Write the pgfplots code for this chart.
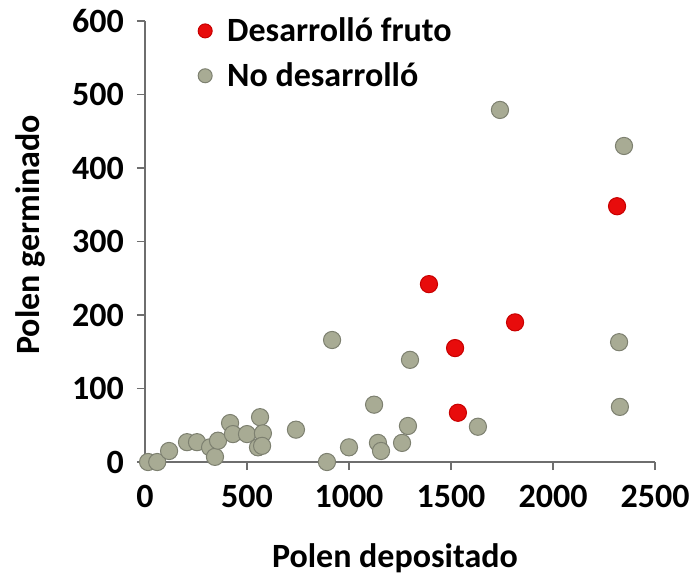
\documentclass[border=0pt]{standalone}
\usepackage{fontspec}
\setmainfont{Carlito}
\usepackage{pgfplots}
\pgfplotsset{compat=1.18}
\definecolor{redfill}{RGB}{232,12,12}
\definecolor{rededge}{RGB}{200,0,0}
\definecolor{grayfill}{RGB}{168,171,148}
\definecolor{grayedge}{RGB}{125,128,112}
\definecolor{axgray}{RGB}{110,110,110}
\begin{document}
\begin{tikzpicture}
\begin{axis}[
  at={(0,0)}, anchor=south west,
  scale only axis, width=255pt, height=220.5pt,
  xmin=0, xmax=2500, ymin=0, ymax=600,
  axis x line*=bottom, axis y line*=left,
  axis line style={axgray, line width=0.9pt},
  xtick={0,500,...,2500}, ytick={0,100,...,600},
  tick style={axgray, line width=0.9pt},
  tick align=outside, major tick length=4pt,
  /pgf/number format/assume math mode=true,
  /pgf/number format/1000 sep={},
  tick label style={font=\fontsize{17}{20}\selectfont\bfseries},
  xticklabel style={yshift=-4pt},
  yticklabel style={xshift=-3pt},
  xlabel={Polen depositado}, ylabel={Polen germinado},
  every axis x label/.style={at={(axis description cs:0.49,-0.218)}, anchor=center, font=\fontsize{17}{20}\selectfont\bfseries},
  every axis y label/.style={at={(axis description cs:-0.2255,0.515)}, rotate=90, anchor=center, font=\fontsize{17}{20}\selectfont\bfseries},
  clip=false,
  legend style={at={(axis description cs:0.1035,1.018)}, anchor=north west, draw=none, fill=none,
    font=\fontsize{17}{20}\selectfont\bfseries, row sep=5pt, inner sep=0pt,
    /tikz/every odd column/.style={column sep=5.5pt}},
  legend cell align=left,
  legend image code/.code={\draw[#1, mark size=3.5pt] plot coordinates {(0.3cm,0cm)};},
]
\addplot[only marks, mark=*, mark size=4.3pt, mark options={fill=redfill, draw=rededge, line width=0.5pt}] coordinates {
(1392,242) (1520,155) (1534,67) (1814,190) (2314,348)
};
\addlegendentry{Desarrolló fruto}
\addplot[only marks, mark=*, mark size=4.3pt, mark options={fill=grayfill, draw=grayedge, line width=0.5pt}] coordinates {
(1740,479) (2348,430) (2324,163) (2328,75) (917,166) (1299,139) (1123,78) (1289,49)
(1632,48) (1260,26) (1142,26) (1157,15) (1000,20) (892,0) (740,44)
(15,0) (60,0) (118,15) (206,27) (255,27) (319,20) (343,7) (358,29) (417,53) (431,38)
(500,38) (564,61) (578,39) (554,20) (574,22)
};
\addlegendentry{No desarrolló}
\end{axis}
\pgfresetboundingbox
\path[use as bounding box] (-72.5pt,-56.5pt) rectangle (277.5pt,231pt);
\end{tikzpicture}
\end{document}
